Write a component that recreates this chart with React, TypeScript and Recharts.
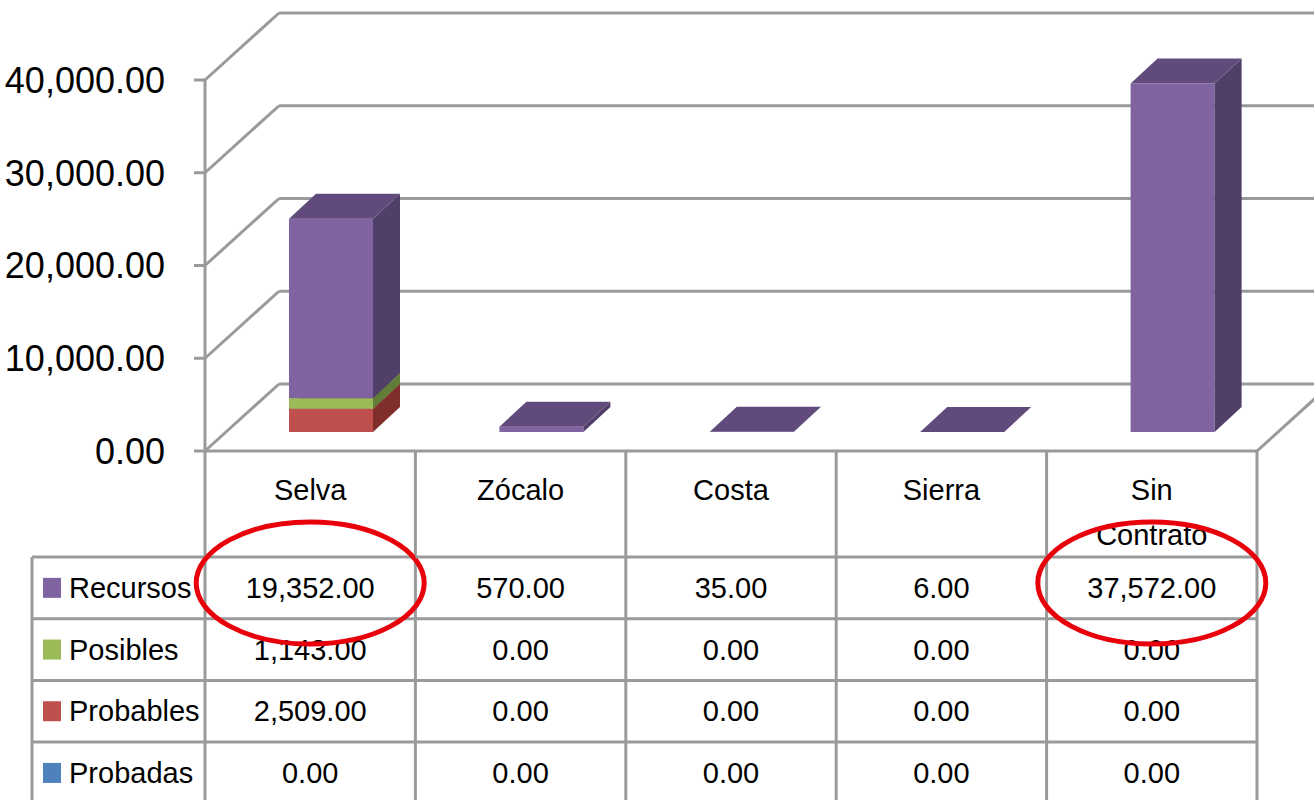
import { BarChart, Bar, XAxis, YAxis, CartesianGrid } from 'recharts';

const categories = ['Selva', 'Zócalo', 'Costa', 'Sierra', 'Sin Contrato'];
const recursos = [19352, 570, 35, 6, 37572];
const posibles = [1143, 0, 0, 0, 0];
const probables = [2509, 0, 0, 0, 0];
const probadas = [0, 0, 0, 0, 0];
const yTicks = [0, 10000, 20000, 30000, 40000];
const highlighted = ['Selva', 'Sin Contrato'];

// bottom of the stack first
const series = [
  { key: 'Probadas', values: probadas, front: '#4F81BD', top: '#3A6191', side: '#2F4F77' },
  { key: 'Probables', values: probables, front: '#C0504D', top: '#943836', side: '#7F2E2C' },
  { key: 'Posibles', values: posibles, front: '#9BBB59', top: '#77923F', side: '#627D36' },
  { key: 'Recursos', values: recursos, front: '#8064A2', top: '#604B7C', side: '#503F68' },
];

const data = categories.map((name, i) => {
  const row: Record<string, string | number> = { name };
  series.forEach(s => (row[s.key] = s.values[i]));
  return row;
});

const W = 1314;
const H = 800;
const Y_W = 205;
const X_H = 349;
const MARGIN = { top: 80, right: 57, left: 0, bottom: 0 };
const BAND = (W - Y_W - MARGIN.right) / categories.length;

// 3D wall depth and where the bars sit inside it
const WALL_DX = 74;
const WALL_DY = 67;
const BAR_OFF_X = 21;
const BAR_OFF_Y = 19;
const BAR_DX = 27;
const BAR_DY = 25;

const GRID = '#9A9A9A';
const FONT = '"Liberation Sans", Arial, sans-serif';
const fmt = (v: number) => v.toLocaleString('en-US', { minimumFractionDigits: 2, maximumFractionDigits: 2 });

const Box3D = (props: any) => {
  const { x, y, width, height, payload, seriesKey, front, top, side } = props;
  if (!payload || !payload[seriesKey]) return <g />;
  const fx = x + BAR_OFF_X;
  const fy = y - BAR_OFF_Y;
  const w = width;
  const h = Math.max(height, 0);
  return (
    <g>
      <rect x={fx} y={fy} width={w} height={h} fill={front} />
      <polygon
        points={`${fx + w},${fy} ${fx + w + BAR_DX},${fy - BAR_DY} ${fx + w + BAR_DX},${fy + h - BAR_DY} ${fx + w},${fy + h}`}
        fill={side}
      />
      <polygon
        points={`${fx},${fy} ${fx + BAR_DX},${fy - BAR_DY} ${fx + w + BAR_DX},${fy - BAR_DY} ${fx + w},${fy}`}
        fill={top}
      />
    </g>
  );
};

const WallLine = (p: any) => {
  const { x1, x2, y1 } = p;
  const floor = Math.abs(y1 - (p.y + p.height)) < 1;
  const st = { stroke: GRID, strokeWidth: 3 };
  return (
    <g key={p.key}>
      <line x1={x1} y1={y1} x2={x1 + WALL_DX} y2={y1 - WALL_DY} {...st} />
      <line x1={x1 + WALL_DX} y1={y1 - WALL_DY} x2={x2 + WALL_DX} y2={y1 - WALL_DY} {...st} />
      {floor && <line x1={x2} y1={y1} x2={x2 + WALL_DX} y2={y1 - WALL_DY} {...st} />}
    </g>
  );
};

const tableRows = [...series].reverse();
const ROW_TOP = 106;
const ROW_H = 61.7;
const LABEL_W = 173;

const TableColumn = (props: any) => {
  const { x, y, payload } = props;
  const i = payload.index;
  const name: string = payload.value;
  const left = x - BAND / 2;
  const right = x + BAND / 2;
  const bottom = H + 20;
  const txt = { fontFamily: FONT, fontSize: 29, fill: '#000', textAnchor: 'middle' as const, dominantBaseline: 'central' as const };
  const lines = name.length > 8 ? name.split(' ') : [name];
  const st = { stroke: GRID, strokeWidth: 3 };
  const rowLeft = i === 0 ? left - LABEL_W : left;
  return (
    <g>
      {tableRows.map((_, r) => (
        <line key={r} x1={rowLeft} x2={right} y1={y + ROW_TOP + r * ROW_H} y2={y + ROW_TOP + r * ROW_H} {...st} />
      ))}
      {i === 0 && <line x1={left} x2={left} y1={y} y2={bottom} {...st} />}
      {i === 0 && <line x1={left - LABEL_W} x2={left - LABEL_W} y1={y + ROW_TOP} y2={bottom} {...st} />}
      <line x1={right} x2={right} y1={y} y2={bottom} {...st} />
      {lines.map((l, k) => (
        <text key={l} x={x} y={y + 39 + k * 45} {...txt}>{l}</text>
      ))}
      {tableRows.map((s, r) => {
        const cy = y + ROW_TOP + r * ROW_H + ROW_H / 2;
        return (
          <g key={s.key}>
            <text x={x} y={cy} {...txt}>{fmt(s.values[i])}</text>
            {i === 0 && (
              <g>
                <rect x={left - LABEL_W + 11} y={cy - 10} width={18} height={20} fill={s.front} />
                <text x={left - LABEL_W + 37} y={cy} {...txt} textAnchor="start">{s.key}</text>
              </g>
            )}
          </g>
        );
      })}
      {highlighted.includes(name) && (
        <ellipse cx={x} cy={y + 132} rx={114} ry={61} fill="none" stroke="#E8000B" strokeWidth={5} />
      )}
    </g>
  );
};

export default function App() {
  return (
    <div style={{ position: 'absolute', left: 0, top: 0, background: '#fff' }}>
      <BarChart width={W} height={H} data={data} margin={MARGIN}>
        <CartesianGrid vertical={false} horizontal={WallLine} />
        <XAxis
          dataKey="name"
          height={X_H}
          interval={0}
          tickSize={0}
          tickMargin={0}
          tickLine={false}
          axisLine={{ stroke: GRID, strokeWidth: 3 }}
          tick={TableColumn}
        />
        <YAxis
          width={Y_W}
          domain={[0, 40000]}
          ticks={yTicks}
          tickSize={11}
          tickMargin={29}
          tickLine={{ stroke: GRID, strokeWidth: 3 }}
          axisLine={{ stroke: GRID, strokeWidth: 3 }}
          tickFormatter={fmt}
          tick={{ fontFamily: FONT, fontSize: 36, fill: '#000' }}
        />
        {series.map(s => (
          <Bar
            key={s.key}
            dataKey={s.key}
            stackId="a"
            barSize={84}
            fill={s.front}
            isAnimationActive={false}
            shape={(p: any) => <Box3D {...p} seriesKey={s.key} front={s.front} top={s.top} side={s.side} />}
          />
        ))}
      </BarChart>
    </div>
  );
}
